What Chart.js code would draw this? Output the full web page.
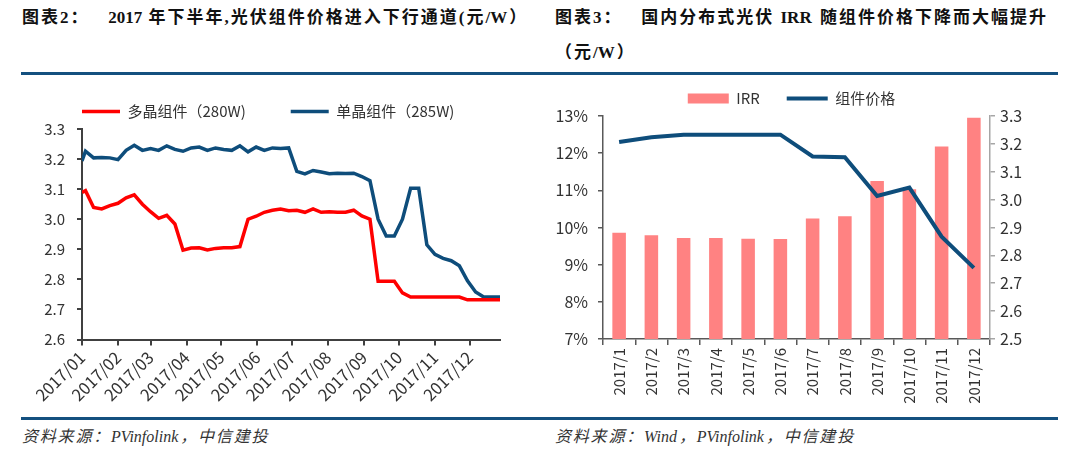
<!DOCTYPE html>
<html lang="zh">
<head>
  <meta charset="UTF-8" />
  <title>光伏组件价格与IRR</title>
  <script src="https://cdn.jsdelivr.net/npm/chart.js"></script>
  <style>
    * {
      box-sizing: border-box;
      margin: 0;
      padding: 0;
    }

    body {
      width: 1080px;
      height: 457px;
      background: #fff;
      position: relative;
      overflow: hidden;
      font-family: 'Noto Sans CJK SC', sans-serif;
    }

    .title {
      position: absolute;
      font-family: 'Liberation Serif', 'Noto Sans CJK SC', serif;
      font-size: 17px;
      font-weight: bold;
      letter-spacing: 2px;
      line-height: 20px;
      color: #111;
      white-space: nowrap;
    }

    .lat {
      letter-spacing: 0;
      margin-right: 2px;
    }

    .rule {
      position: absolute;
      left: 21px;
      width: 1037px;
      height: 3px;
      background: #14507f;
    }

    .source {
      position: absolute;
      top: 427px;
      font-family: 'Liberation Serif', 'Noto Sans CJK SC', serif;
      font-size: 16px;
      font-style: italic;
      letter-spacing: 1.8px;
      line-height: 20px;
      color: #333;
      white-space: nowrap;
    }

    .chart-box {
      position: absolute;
    }
  </style>
</head>
<body>

  <div class="title" style="left:22px; top:8px;">图表<span class="lat">2</span>：&nbsp;&nbsp;&nbsp;<span class="lat">2017 </span>年下半年<span class="lat">,</span>光伏组件价格进入下行通道<span class="lat">(</span>元<span class="lat">/W</span>）</div>
  <div class="title" style="left:555px; top:8px;">图表<span class="lat">3</span>：&nbsp;&nbsp;&nbsp;国内分布式光伏&nbsp;<span class="lat">IRR</span>&nbsp;随组件价格下降而大幅提升</div>
  <div class="title" style="left:555px; top:43px;">（元<span class="lat">/W</span>）</div>
  <div class="rule" style="top:72px;"></div>

  <div class="chart-box" style="left:0; top:58.5px; width:530px; height:356.5px;">
    <canvas id="priceChart"></canvas>
  </div>
  <div class="chart-box" style="left:540px; top:64px; width:520px; height:351px;">
    <canvas id="irrChart"></canvas>
  </div>

  <div class="rule" style="top:417px;"></div>
  <div class="source" style="left:22px;">资料来源：<span class="lat">PVinfolink</span>，中信建投</div>
  <div class="source" style="left:555px;">资料来源：<span class="lat">Wind</span>，<span class="lat">PVinfolink</span>，中信建投</div>

  <script>
    // 图表2：周度组件价格 (元/W)
    const weekDates = [
      '01-01', '01-04', '01-11', '01-18', '01-25', '02-01', '02-08', '02-15', '02-22',
      '03-01', '03-08', '03-15', '03-22', '03-29', '04-05', '04-12', '04-19', '04-26',
      '05-03', '05-10', '05-17', '05-24', '05-31', '06-07', '06-14', '06-21', '06-28',
      '07-05', '07-12', '07-19', '07-26', '08-02', '08-09', '08-16', '08-23', '08-30',
      '09-06', '09-13', '09-20', '09-27', '10-04', '10-11', '10-18', '10-25',
      '11-01', '11-08', '11-15', '11-22', '11-29', '12-06', '12-13', '12-20', '12-27'
    ];
    const polyPrice = [
      3.089, 3.095, 3.039, 3.034, 3.045, 3.053, 3.071, 3.081, 3.050,
      3.025, 3.003, 3.013, 2.984, 2.897, 2.904, 2.905, 2.898, 2.903,
      2.905, 2.905, 2.909, 3.000, 3.010, 3.023, 3.030, 3.034, 3.028,
      3.030, 3.023, 3.034, 3.023, 3.025, 3.023, 3.023, 3.030, 3.011,
      3.000, 2.794, 2.794, 2.794, 2.755, 2.741, 2.741, 2.741,
      2.741, 2.741, 2.741, 2.741, 2.732, 2.732, 2.732, 2.732, 2.732
    ];
    const monoPrice = [
      3.194, 3.226, 3.204, 3.205, 3.204, 3.198, 3.229, 3.246, 3.229,
      3.235, 3.229, 3.244, 3.232, 3.226, 3.237, 3.240, 3.229, 3.237,
      3.232, 3.229, 3.244, 3.224, 3.240, 3.229, 3.237, 3.235, 3.237,
      3.159, 3.151, 3.162, 3.157, 3.151, 3.153, 3.152, 3.153, 3.142,
      3.128, 3.000, 2.944, 2.944, 3.000, 3.103, 3.103, 2.915,
      2.883, 2.870, 2.862, 2.845, 2.795, 2.758, 2.741, 2.741, 2.741
    ];
    const monthStarts = ['01-01', '02-01', '03-01', '04-01', '05-01', '06-01',
                         '07-01', '08-01', '09-01', '10-01', '11-01', '12-01'];
    const monthLabels = ['2017/01', '2017/02', '2017/03', '2017/04', '2017/05', '2017/06',
                         '2017/07', '2017/08', '2017/09', '2017/10', '2017/11', '2017/12'];

    // 图表3：月度 IRR (%) 与组件价格 (元/W)
    const months = ['2017/1', '2017/2', '2017/3', '2017/4', '2017/5', '2017/6',
                    '2017/7', '2017/8', '2017/9', '2017/10', '2017/11', '2017/12'];
    const irr = [9.86, 9.79, 9.72, 9.72, 9.70, 9.69, 10.24, 10.30, 11.25, 11.03, 12.18, 12.95];
    const modulePrice = [3.207, 3.224, 3.233, 3.233, 3.233, 3.233, 3.155, 3.152, 3.013, 3.043, 2.867, 2.755];

    const red = '#ff0000';
    const navy = '#0e4d7b';
    const pink = '#ff8282';

    function dayOfYear(md) {
      const [m, d] = md.split('-').map(Number);
      return (Date.UTC(2017, m - 1, d) - Date.UTC(2017, 0, 1)) / 86400000;
    }

    Chart.defaults.font.family = "'Noto Sans CJK SC', sans-serif";
    Chart.defaults.color = '#333';
    Chart.defaults.animation = false;

    // ---------- 图表2 ----------
    new Chart(document.getElementById('priceChart'), {
      type: 'line',
      data: {
        datasets: [
          {
            label: '多晶组件（280W)',
            data: weekDates.map((d, i) => ({ x: dayOfYear(d), y: polyPrice[i] })),
            borderColor: red,
            backgroundColor: red,
            borderWidth: 3.5,
            pointRadius: 0,
            pointStyle: 'line',
            tension: 0
          },
          {
            label: '单晶组件（285W)',
            data: weekDates.map((d, i) => ({ x: dayOfYear(d), y: monoPrice[i] })),
            borderColor: navy,
            backgroundColor: navy,
            borderWidth: 3.5,
            pointRadius: 0,
            pointStyle: 'line',
            tension: 0
          }
        ]
      },
      options: {
        responsive: true,
        maintainAspectRatio: false,
        layout: { padding: { left: 37, right: 30, top: 0, bottom: 0 } },
        plugins: {
          legend: {
            align: 'start',
            maxHeight: 72,
            labels: {
              usePointStyle: true,
              pointStyleWidth: 38,
              padding: 45,
              color: '#333',
              font: { size: 15 }
            }
          },
          tooltip: { enabled: false }
        },
        scales: {
          x: {
            type: 'linear',
            min: 0,
            max: 360,
            afterBuildTicks: scale => {
              scale.ticks = monthStarts.map(m => ({ value: dayOfYear(m) }));
            },
            afterFit: scale => { scale.height = 76; },
            ticks: {
              autoSkip: false,
              minRotation: 45,
              maxRotation: 45,
              padding: 2,
              color: '#333',
              font: { size: 16.5 },
              callback: (value, index) => monthLabels[index]
            },
            grid: { drawOnChartArea: false, tickLength: 6, color: '#404040', lineWidth: 2 },
            border: { color: '#404040', width: 2 }
          },
          y: {
            min: 2.6,
            max: 3.3,
            afterFit: scale => { scale.width = 45; },
            ticks: {
              stepSize: 0.1,
              padding: 12,
              color: '#333',
              font: { size: 15 },
              callback: value => value.toFixed(1)
            },
            grid: { drawOnChartArea: false, tickLength: 5, color: '#404040', lineWidth: 2 },
            border: { color: '#404040', width: 2 }
          }
        }
      }
    });

    // ---------- 图表3 ----------
    new Chart(document.getElementById('irrChart'), {
      type: 'bar',
      data: {
        labels: months,
        datasets: [
          {
            label: 'IRR',
            data: irr,
            backgroundColor: pink,
            borderWidth: 0,
            pointStyle: 'rect',
            barPercentage: 0.42,
            categoryPercentage: 1.0,
            yAxisID: 'y',
            order: 2
          },
          {
            type: 'line',
            label: '组件价格',
            data: modulePrice,
            borderColor: navy,
            backgroundColor: navy,
            borderWidth: 4,
            pointRadius: 0,
            pointStyle: 'line',
            tension: 0,
            yAxisID: 'y1',
            order: 1
          }
        ]
      },
      options: {
        responsive: true,
        maintainAspectRatio: false,
        layout: { padding: { left: 8, right: 25, top: 0, bottom: 0 } },
        plugins: {
          legend: {
            align: 'center',
            maxHeight: 54,
            labels: {
              usePointStyle: true,
              pointStyleWidth: 41,
              boxHeight: 10,
              padding: 27,
              color: '#333',
              font: { size: 15 },
              sort: (a, b) => a.datasetIndex - b.datasetIndex
            }
          },
          tooltip: { enabled: false }
        },
        scales: {
          x: {
            afterFit: scale => { scale.height = 76; },
            ticks: {
              autoSkip: false,
              minRotation: 90,
              maxRotation: 90,
              padding: 3,
              color: '#333',
              font: { size: 15 }
            },
            grid: { drawOnChartArea: false, offset: true, tickLength: 6, color: '#595959', lineWidth: 1.5 },
            border: { color: '#595959', width: 1.5 }
          },
          y: {
            position: 'left',
            min: 7,
            max: 13,
            afterFit: scale => { scale.width = 55; },
            ticks: {
              stepSize: 1,
              padding: 10,
              color: '#333',
              font: { size: 16 },
              callback: value => value + '%'
            },
            grid: { drawOnChartArea: false, tickLength: 5, color: '#595959', lineWidth: 1.5 },
            border: { color: '#595959', width: 1.5 }
          },
          y1: {
            position: 'right',
            min: 2.5,
            max: 3.3,
            afterFit: scale => { scale.width = 45; },
            ticks: {
              stepSize: 0.1,
              padding: 5,
              color: '#333',
              font: { size: 16 },
              callback: value => value.toFixed(1)
            },
            grid: { drawOnChartArea: false, tickLength: 5, color: '#a6a6a6', lineWidth: 1.5 },
            border: { color: '#a6a6a6', width: 1.5 }
          }
        }
      }
    });
  </script>

</body>
</html>
